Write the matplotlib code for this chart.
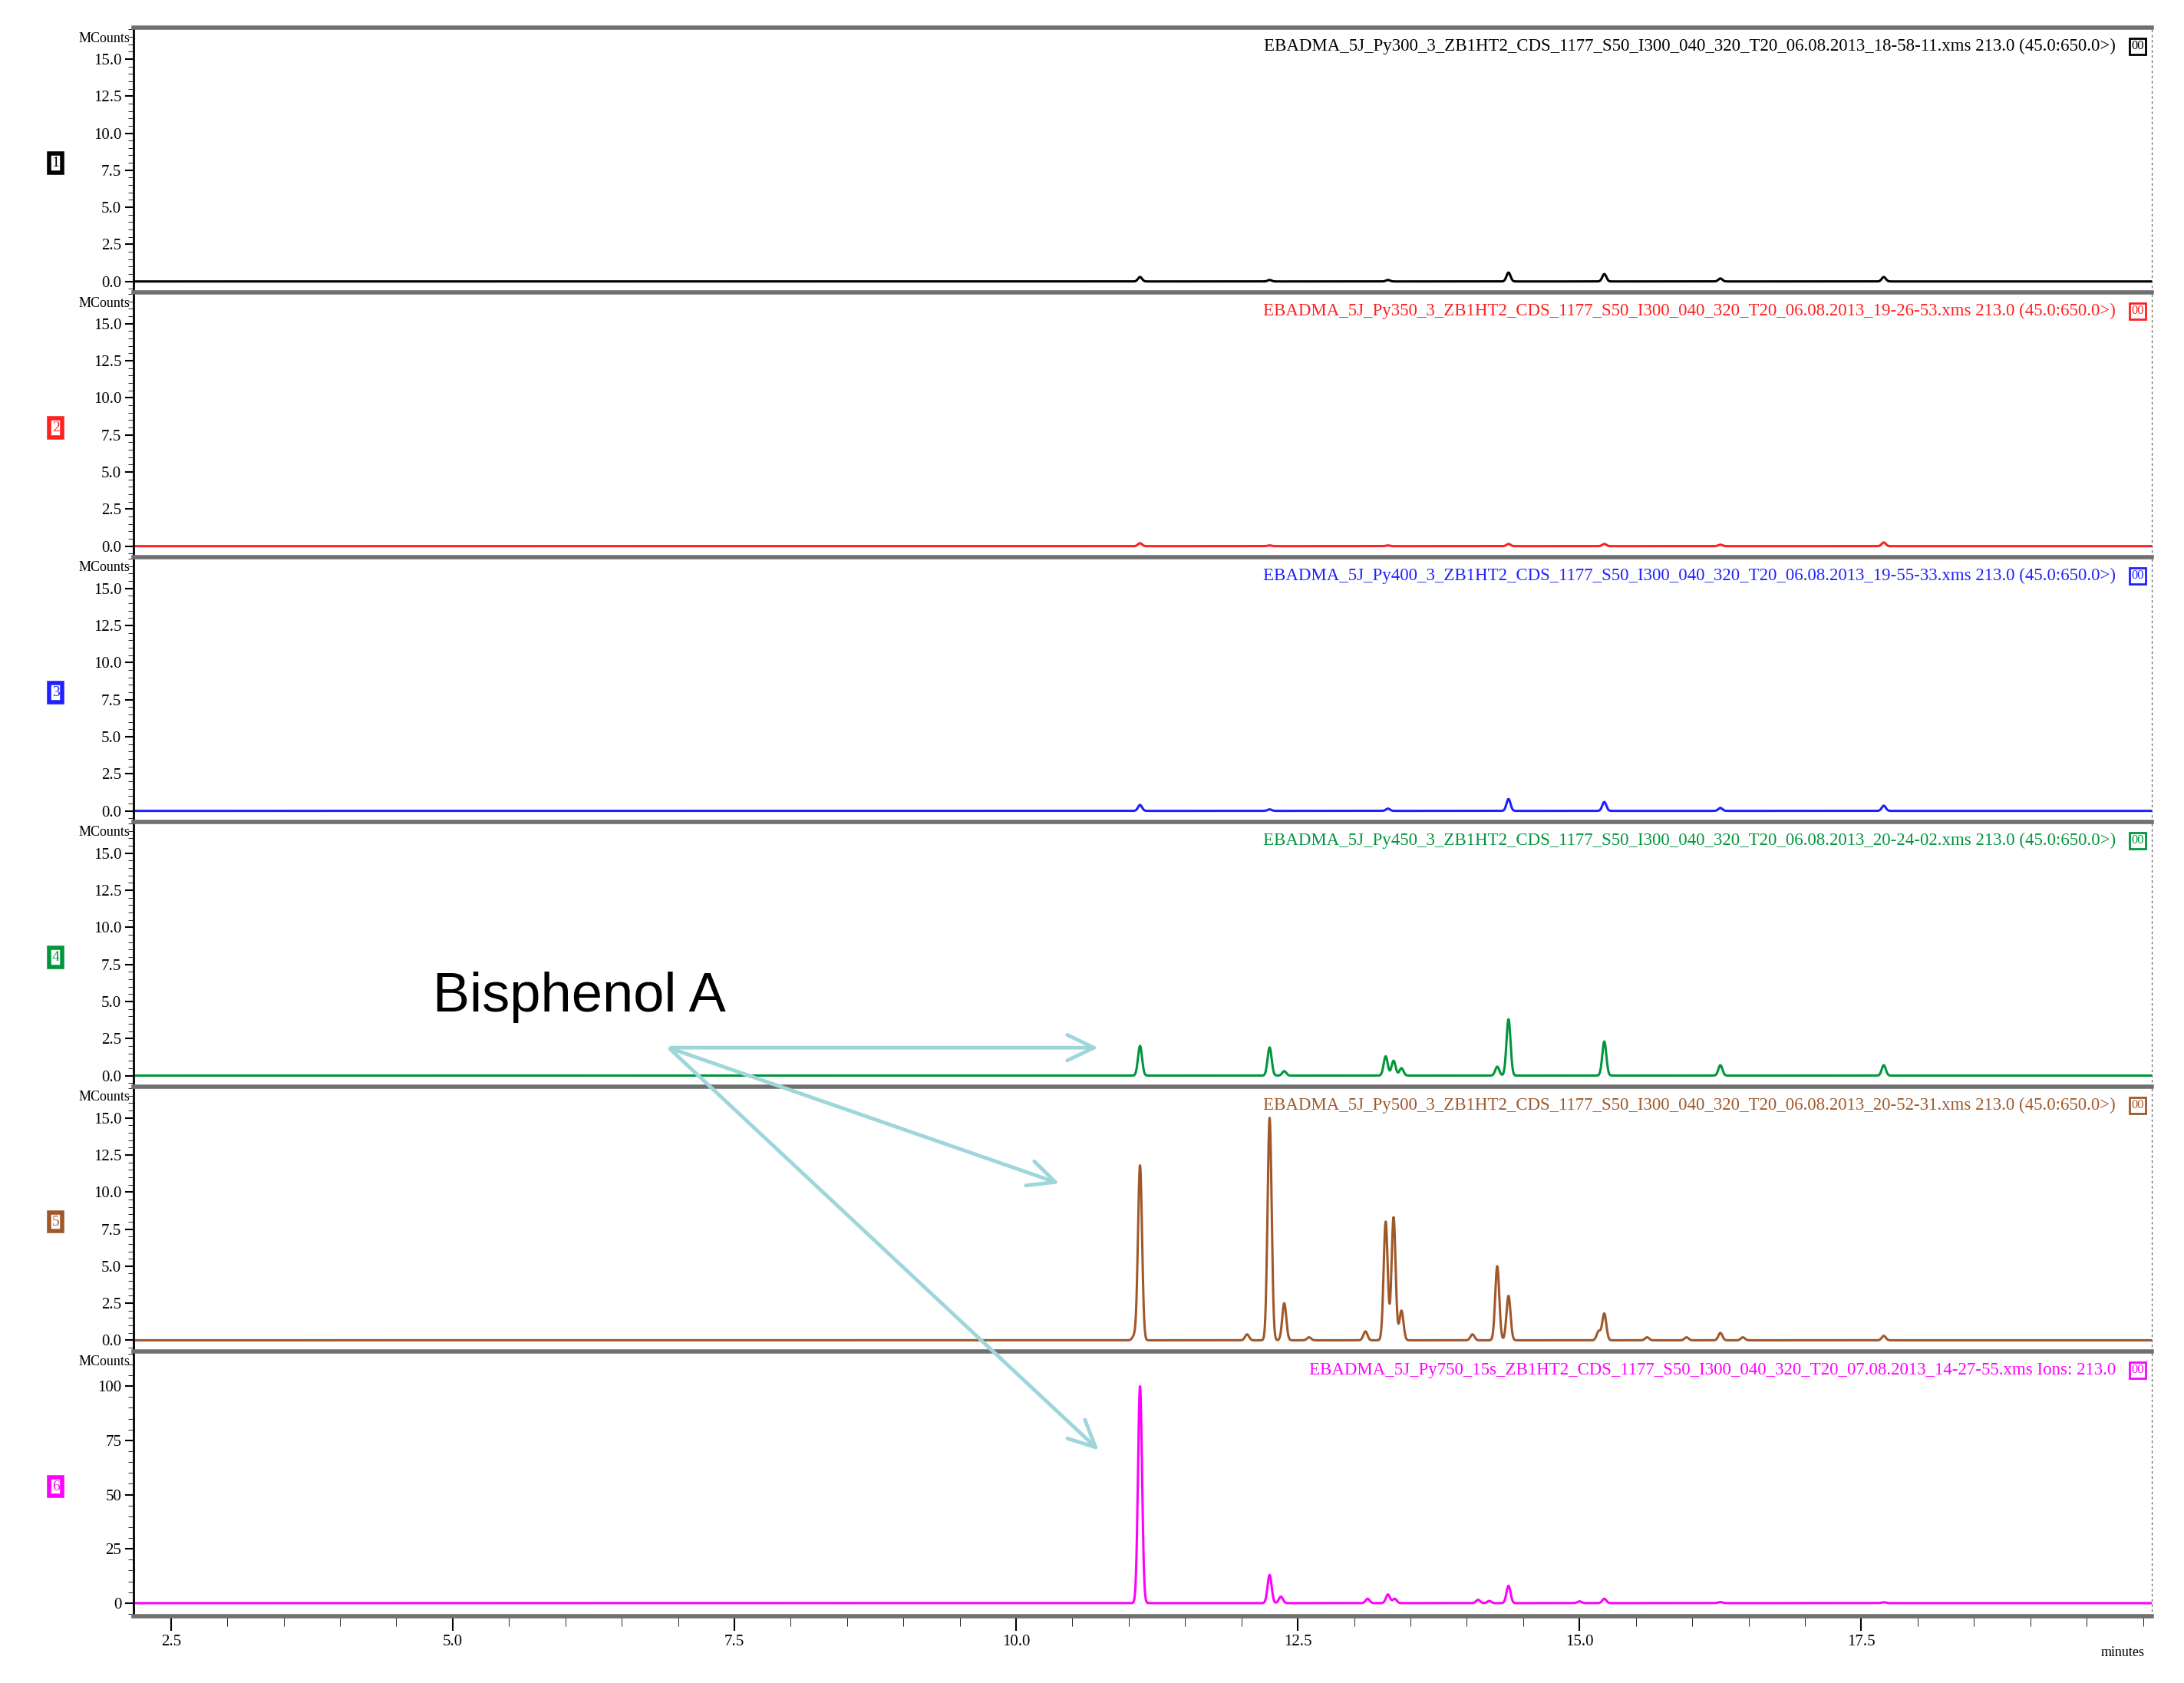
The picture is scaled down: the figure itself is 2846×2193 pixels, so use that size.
import matplotlib.pyplot as plt
import numpy as np
from matplotlib.ticker import MultipleLocator, FixedLocator
from matplotlib.patches import FancyArrowPatch

W, H = 1568.0, 1208.0  # layout measured in reference display pixels

labels = ["1", "2", "3", "4", "5", "6"]
colors = ["#000000", "#ff2020", "#2020ff", "#00963c", "#a0582a", "#ff00ff"]
headers = [
    "EBADMA_5J_Py300_3_ZB1HT2_CDS_1177_S50_I300_040_320_T20_06.08.2013_18-58-11.xms 213.0 (45.0:650.0>)",
    "EBADMA_5J_Py350_3_ZB1HT2_CDS_1177_S50_I300_040_320_T20_06.08.2013_19-26-53.xms 213.0 (45.0:650.0>)",
    "EBADMA_5J_Py400_3_ZB1HT2_CDS_1177_S50_I300_040_320_T20_06.08.2013_19-55-33.xms 213.0 (45.0:650.0>)",
    "EBADMA_5J_Py450_3_ZB1HT2_CDS_1177_S50_I300_040_320_T20_06.08.2013_20-24-02.xms 213.0 (45.0:650.0>)",
    "EBADMA_5J_Py500_3_ZB1HT2_CDS_1177_S50_I300_040_320_T20_06.08.2013_20-52-31.xms 213.0 (45.0:650.0>)",
    "EBADMA_5J_Py750_15s_ZB1HT2_CDS_1177_S50_I300_040_320_T20_07.08.2013_14-27-55.xms Ions: 213.0",
]

# peak tables: retention time (min) and height
rt1 = [11.1, 12.25, 13.3, 14.37, 15.22, 16.25, 17.7]
h1 = [0.3, 0.1, 0.1, 0.6, 0.5, 0.2, 0.3]
rt2 = [11.1, 12.25, 13.3, 14.37, 15.22, 16.25, 17.7]
h2 = [0.2, 0.05, 0.05, 0.15, 0.15, 0.1, 0.25]
rt3 = [11.1, 12.25, 13.3, 14.37, 15.22, 16.25, 17.7]
h3 = [0.4, 0.1, 0.15, 0.8, 0.6, 0.2, 0.35]
rt4 = [11.1, 12.25, 12.38, 13.28, 13.35, 13.42, 14.27, 14.37, 15.22, 16.25, 17.7]
h4 = [2.0, 1.9, 0.3, 1.3, 1.0, 0.5, 0.6, 3.8, 2.3, 0.7, 0.7]
rt5 = [11.05, 11.1, 12.05, 12.25, 12.38, 12.6, 13.1, 13.28, 13.35, 13.42, 14.05, 14.27, 14.37, 15.17, 15.22, 15.6, 15.95, 16.25, 16.45, 17.7]
h5 = [0.3, 11.8, 0.4, 15.0, 2.5, 0.2, 0.6, 8.0, 8.3, 2.0, 0.4, 5.0, 3.0, 0.6, 1.8, 0.2, 0.2, 0.5, 0.2, 0.3]
rt6 = [11.1, 12.25, 12.35, 13.12, 13.3, 13.36, 14.1, 14.2, 14.37, 15.0, 15.22, 16.25, 17.7]
h6 = [100.0, 13.0, 3.0, 2.0, 4.0, 2.0, 1.5, 1.0, 8.0, 0.8, 2.0, 0.5, 0.4]
rts = [rt1, rt2, rt3, rt4, rt5, rt6]
heights = [h1, h2, h3, h4, h5, h6]

xticks = [2.5, 5.0, 7.5, 10.0, 12.5, 15.0, 17.5]
ylims = [(-0.75, 17.1)] * 5 + [(-6, 116)]
ymaj = [2.5] * 5 + [25]
ymin = [0.5] * 5 + [5]
yfmt = ["{x:.1f}"] * 5 + ["{x:.0f}"]

fig = plt.figure(figsize=(28.46, 21.93), dpi=100)
serif = "Liberation Serif"
x = np.linspace(2.17, 20.08, 8000)

tops = [20, 210, 400, 590, 780, 970]
for i in range(6):
    top, bot = tops[i], tops[i] + 190
    ax = fig.add_axes([96 / W, 1 - bot / H, (1545 - 96) / W, 190 / H])
    y = np.zeros_like(x)
    for r, h in zip(rts[i], heights[i]):
        y += h * np.exp(-0.5 * ((x - r) / 0.018) ** 2)
    ax.plot(x, y, color=colors[i], lw=2.2)
    ax.set_xlim(2.17, 20.08)
    ax.set_ylim(*ylims[i])
    ax.yaxis.set_major_locator(MultipleLocator(ymaj[i]))
    ax.yaxis.set_minor_locator(MultipleLocator(ymin[i]))
    ax.yaxis.set_major_formatter(yfmt[i])
    ax.tick_params(axis="y", labelsize=15, length=8, width=1.5, direction="out")
    ax.tick_params(axis="y", which="minor", length=5)
    for t in ax.get_yticklabels():
        t.set_family(serif)
    ax.spines["top"].set_color("#707070")
    ax.spines["top"].set_linewidth(4)
    ax.spines["left"].set_linewidth(2)
    ax.spines["right"].set_linestyle((0, (2, 4)))
    ax.spines["right"].set_color("#555555")
    ax.spines["bottom"].set_visible(i == 5)
    if i < 5:
        ax.set_xticks([])
    else:
        ax.spines["bottom"].set_color("#707070")
        ax.spines["bottom"].set_linewidth(4)
        ax.xaxis.set_major_locator(FixedLocator(xticks))
        ax.xaxis.set_minor_locator(MultipleLocator(0.5))
        ax.xaxis.set_major_formatter("{x:.1f}")
        ax.tick_params(axis="x", labelsize=15, length=14, width=1.5)
        ax.tick_params(axis="x", which="minor", length=9)
        for t in ax.get_xticklabels():
            t.set_family(serif)
    ax.text(-0.002, 0.96, "MCounts", transform=ax.transAxes, ha="right",
            va="center", fontsize=13, family=serif)
    ax.text(0.982, 0.93, headers[i], transform=ax.transAxes, ha="right",
            va="center", fontsize=16.5, family=serif, color=colors[i])
    ax.text(0.996, 0.93, "00", transform=ax.transAxes, ha="right", va="center",
            fontsize=12, family=serif, color=colors[i],
            bbox=dict(boxstyle="square,pad=0.15", fc="white", ec=colors[i], lw=2))
    fig.text(40 / W, 1 - (top + 97) / H, labels[i], ha="center", va="center",
             fontsize=14, family=serif, color=colors[i],
             bbox=dict(boxstyle="square,pad=0.2", fc="white", ec=colors[i], lw=4))

fig.text(1524 / W, 1 - 1186 / H, "minutes", ha="center", va="center",
         fontsize=13, family=serif)

# Bisphenol A annotation
fig.text(311 / W, 1 - 716 / H, "Bisphenol A", ha="left", va="center",
         fontsize=52, family="Liberation Sans")
start = (480 / W, 1 - 752 / H)
for ex, ey in [(790, 752), (762, 850), (790, 1042)]:
    fig.add_artist(FancyArrowPatch(
        start, (ex / W, 1 - ey / H), transform=fig.transFigure,
        arrowstyle="->,head_length=25,head_width=12", color="#9fd6da", lw=3.5))

fig.savefig("out.png", dpi=100)
